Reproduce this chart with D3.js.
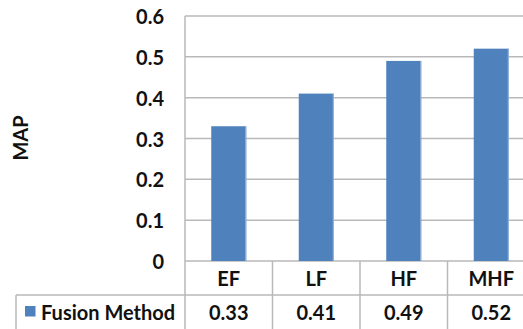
<!DOCTYPE html>
<html><head><meta charset="utf-8">
<script src="https://cdn.jsdelivr.net/npm/d3@7"></script>
<style>
html,body{margin:0;padding:0;background:#fff;}
svg{display:block;font-family:Lato,"Open Sans",sans-serif;font-weight:700;}
</style></head>
<body>
<svg id="chart" width="523" height="329"></svg>
<script>
const categories = ["EF", "LF", "HF", "MHF"];
const seriesName = "Fusion Method";
const values = [0.33, 0.41, 0.49, 0.52];
const yTicks = [0, 0.1, 0.2, 0.3, 0.4, 0.5, 0.6];
const yTickLabels = ["0", "0.1", "0.2", "0.3", "0.4", "0.5", "0.6"];
const yTitle = "MAP";

(function () {
const svg = d3.select("#chart");
const W = 523;
const plotLeft = 185, plotRight = 535, plotTop = 16, base = 261, rowSep = 295, plotBottom = 329, legendLeft = 16;
const grid = "#b9b9b9";
const barColor = "#4f81bd";
const fontSize = 20;
const ink = "#111";

const x = d3.scaleBand().domain(categories).range([plotLeft, plotRight]).paddingInner(0.6).paddingOuter(0.3);
const y = d3.scaleLinear().domain([0, 0.6]).range([base, plotTop]);

// gridlines
svg.append("g").selectAll("line").data(yTicks).join("line")
  .attr("x1", plotLeft).attr("x2", W)
  .attr("y1", d => y(d)).attr("y2", d => y(d))
  .attr("stroke", grid).attr("stroke-width", 1.5);

// y tick labels
svg.append("g").selectAll("text").data(yTicks).join("text")
  .attr("x", 164).attr("y", d => y(d))
  .attr("text-anchor", "end").attr("dominant-baseline", "central")
  .attr("font-size", fontSize).attr("fill", ink)
  .text((d, i) => yTickLabels[i]);

// y title
svg.append("text")
  .attr("transform", `translate(20,138) rotate(-90)`)
  .attr("text-anchor", "middle").attr("dominant-baseline", "central")
  .attr("font-size", fontSize).attr("fill", ink)
  .text(yTitle);

// bars
svg.append("g").selectAll("rect").data(values).join("rect")
  .attr("x", (d, i) => x(categories[i]))
  .attr("width", x.bandwidth())
  .attr("y", d => y(d))
  .attr("height", d => y(0) - y(d))
  .attr("fill", barColor);
svg.append("g").selectAll("line").data(values).join("line")
  .attr("x1", (d, i) => x(categories[i]) + x.bandwidth() - 0.5)
  .attr("x2", (d, i) => x(categories[i]) + x.bandwidth() - 0.5)
  .attr("y1", d => y(d)).attr("y2", y(0))
  .attr("stroke", "#9db8dc").attr("stroke-width", 1);

// table lines
svg.append("line").attr("x1", plotLeft).attr("x2", plotLeft).attr("y1", plotTop).attr("y2", plotBottom)
  .attr("stroke", grid).attr("stroke-width", 1.5);
svg.append("line").attr("x1", legendLeft).attr("x2", W).attr("y1", rowSep).attr("y2", rowSep)
  .attr("stroke", grid).attr("stroke-width", 1.5);
svg.append("line").attr("x1", legendLeft).attr("x2", legendLeft).attr("y1", rowSep).attr("y2", plotBottom)
  .attr("stroke", grid).attr("stroke-width", 1.5);
const step = x.step();
svg.append("g").selectAll("line").data(categories.slice(1)).join("line")
  .attr("x1", d => x(d) + x.bandwidth() / 2 - step / 2)
  .attr("x2", d => x(d) + x.bandwidth() / 2 - step / 2)
  .attr("y1", base).attr("y2", plotBottom)
  .attr("stroke", grid).attr("stroke-width", 1.5);

// category labels
svg.append("g").selectAll("text").data(categories).join("text")
  .attr("x", d => x(d) + x.bandwidth() / 2).attr("y", (base + rowSep) / 2)
  .attr("text-anchor", "middle").attr("dominant-baseline", "central")
  .attr("font-size", fontSize).attr("fill", ink)
  .text(d => d);

// values row
svg.append("g").selectAll("text").data(values).join("text")
  .attr("x", (d, i) => x(categories[i]) + x.bandwidth() / 2).attr("y", (rowSep + plotBottom) / 2)
  .attr("text-anchor", "middle").attr("dominant-baseline", "central")
  .attr("font-size", fontSize).attr("fill", ink)
  .text(d => d3.format(".2f")(d));

// legend key
svg.append("rect").attr("x", 25).attr("y", 306).attr("width", 10.5).attr("height", 10.5).attr("fill", barColor);
svg.append("text").attr("x", 41).attr("y", (rowSep + plotBottom) / 2)
  .attr("dominant-baseline", "central")
  .attr("font-size", fontSize).attr("fill", ink)
  .text(seriesName);
})();
</script>
</body></html>
